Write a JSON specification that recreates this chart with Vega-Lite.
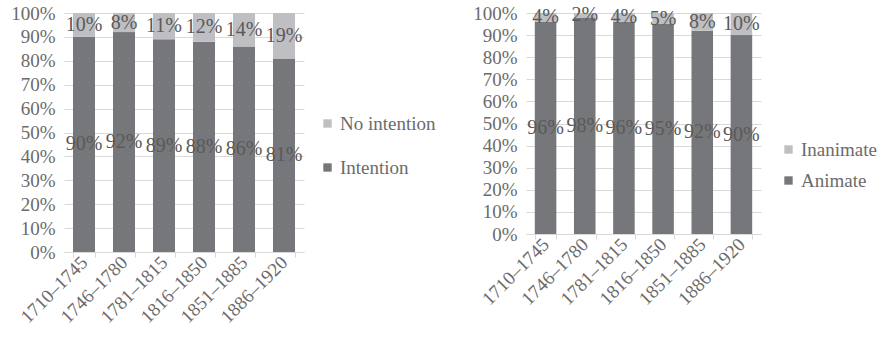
{
  "$schema": "https://vega.github.io/schema/vega-lite/v6.json",
  "background": "white",
  "padding": {"left": 10, "top": 4, "right": 5, "bottom": 5},
  "spacing": 36,
  "resolve": {"scale": {"color": "independent", "x": "independent", "y": "independent"}},
  "config": {
    "font": "Liberation Serif",
    "view": {"stroke": null}
  },
  "datasets": {
    "left": [
      {"period": "1710–1745", "type": "Intention", "pct": 0.90},
      {"period": "1710–1745", "type": "No intention", "pct": 0.10},
      {"period": "1746–1780", "type": "Intention", "pct": 0.92},
      {"period": "1746–1780", "type": "No intention", "pct": 0.08},
      {"period": "1781–1815", "type": "Intention", "pct": 0.89},
      {"period": "1781–1815", "type": "No intention", "pct": 0.11},
      {"period": "1816–1850", "type": "Intention", "pct": 0.88},
      {"period": "1816–1850", "type": "No intention", "pct": 0.12},
      {"period": "1851–1885", "type": "Intention", "pct": 0.86},
      {"period": "1851–1885", "type": "No intention", "pct": 0.14},
      {"period": "1886–1920", "type": "Intention", "pct": 0.81},
      {"period": "1886–1920", "type": "No intention", "pct": 0.19}
    ],
    "right": [
      {"period": "1710–1745", "type": "Animate", "pct": 0.96},
      {"period": "1710–1745", "type": "Inanimate", "pct": 0.04},
      {"period": "1746–1780", "type": "Animate", "pct": 0.98},
      {"period": "1746–1780", "type": "Inanimate", "pct": 0.02},
      {"period": "1781–1815", "type": "Animate", "pct": 0.96},
      {"period": "1781–1815", "type": "Inanimate", "pct": 0.04},
      {"period": "1816–1850", "type": "Animate", "pct": 0.95},
      {"period": "1816–1850", "type": "Inanimate", "pct": 0.05},
      {"period": "1851–1885", "type": "Animate", "pct": 0.92},
      {"period": "1851–1885", "type": "Inanimate", "pct": 0.08},
      {"period": "1886–1920", "type": "Animate", "pct": 0.90},
      {"period": "1886–1920", "type": "Inanimate", "pct": 0.10}
    ]
  },
  "hconcat": [
    {
      "width": 240,
      "height": 239,
      "data": {"name": "left"},
      "transform": [
        {"stack": "pct", "groupby": ["period"], "sort": [{"field": "type", "order": "ascending"}], "as": ["y0", "y1"]},
        {"calculate": "(datum.y0 + datum.y1) / 2", "as": "mid"}
      ],
      "encoding": {
        "x": {
          "field": "period", "type": "nominal", "sort": null,
          "scale": {"paddingInner": 0.45, "paddingOuter": 0.225},
          "axis": {"title": null, "labelFont": "Liberation Serif", "labelFontSize": 19, "labelColor": "#6b6b6b", "labelOverlap": false, "labelAngle": -45, "labelAlign": "right", "labelBaseline": "middle", "domainColor": "#d9d9d9", "tickColor": "#d9d9d9", "tickSize": 5, "tickBand": "extent", "labelPadding": 2}
        },
        "y": {"field": "y0", "type": "quantitative", "scale": {"domain": [0, 1], "nice": false},
              "axis": {"title": null, "labelFont": "Liberation Serif", "labelFontSize": 19, "labelColor": "#6b6b6b", "labelOverlap": false, "format": ".0%", "values": [0, 0.1, 0.2, 0.3, 0.4, 0.5, 0.6, 0.7, 0.8, 0.9, 1], "domain": false, "ticks": false, "gridColor": "#d9d9d9", "labelPadding": 9}}
      },
      "layer": [
        {
          "mark": {"type": "bar"},
          "encoding": {
            "y2": {"field": "y1"},
            "color": {"field": "type", "type": "nominal",
                      "scale": {"domain": ["No intention", "Intention"], "range": ["#bfbfc3", "#76777b"]},
                      "legend": {"title": null, "labelFont": "Liberation Serif", "labelFontSize": 19, "labelColor": "#6b6b6b", "orient": "none", "legendX": 254, "legendY": 101, "symbolType": "square", "symbolSize": 70, "symbolStrokeWidth": 0, "rowPadding": 24, "labelOffset": 3}}
          }
        },
        {
          "mark": {"type": "text", "font": "Liberation Serif", "fontSize": 20, "color": "#5a5a5a", "baseline": "middle"},
          "encoding": {
            "y": {"field": "mid", "type": "quantitative"},
            "text": {"field": "pct", "type": "quantitative", "format": ".0%"}
          }
        }
      ]
    },
    {
      "width": 235,
      "height": 221,
      "data": {"name": "right"},
      "transform": [
        {"stack": "pct", "groupby": ["period"], "sort": [{"field": "type", "order": "ascending"}], "as": ["y0", "y1"]},
        {"calculate": "(datum.y0 + datum.y1) / 2", "as": "mid"}
      ],
      "encoding": {
        "x": {
          "field": "period", "type": "nominal", "sort": null,
          "scale": {"paddingInner": 0.45, "paddingOuter": 0.225},
          "axis": {"title": null, "labelFont": "Liberation Serif", "labelFontSize": 19, "labelColor": "#6b6b6b", "labelOverlap": false, "labelAngle": -45, "labelAlign": "right", "labelBaseline": "middle", "domainColor": "#d9d9d9", "tickColor": "#d9d9d9", "tickSize": 5, "tickBand": "extent", "labelPadding": 2}
        },
        "y": {"field": "y0", "type": "quantitative", "scale": {"domain": [0, 1], "nice": false},
              "axis": {"title": null, "labelFont": "Liberation Serif", "labelFontSize": 19, "labelColor": "#6b6b6b", "labelOverlap": false, "format": ".0%", "values": [0, 0.1, 0.2, 0.3, 0.4, 0.5, 0.6, 0.7, 0.8, 0.9, 1], "domain": false, "ticks": false, "gridColor": "#d9d9d9", "labelPadding": 9}}
      },
      "layer": [
        {
          "mark": {"type": "bar"},
          "encoding": {
            "y2": {"field": "y1"},
            "color": {"field": "type", "type": "nominal",
                      "scale": {"domain": ["Inanimate", "Animate"], "range": ["#bfbfc3", "#76777b"]},
                      "legend": {"title": null, "labelFont": "Liberation Serif", "labelFontSize": 19, "labelColor": "#6b6b6b", "orient": "none", "legendX": 253, "legendY": 127, "symbolType": "square", "symbolSize": 70, "symbolStrokeWidth": 0, "rowPadding": 11, "labelOffset": 3}}
          }
        },
        {
          "mark": {"type": "text", "font": "Liberation Serif", "fontSize": 20, "color": "#5a5a5a", "baseline": "middle"},
          "encoding": {
            "y": {"field": "mid", "type": "quantitative"},
            "text": {"field": "pct", "type": "quantitative", "format": ".0%"}
          }
        }
      ]
    }
  ]
}
